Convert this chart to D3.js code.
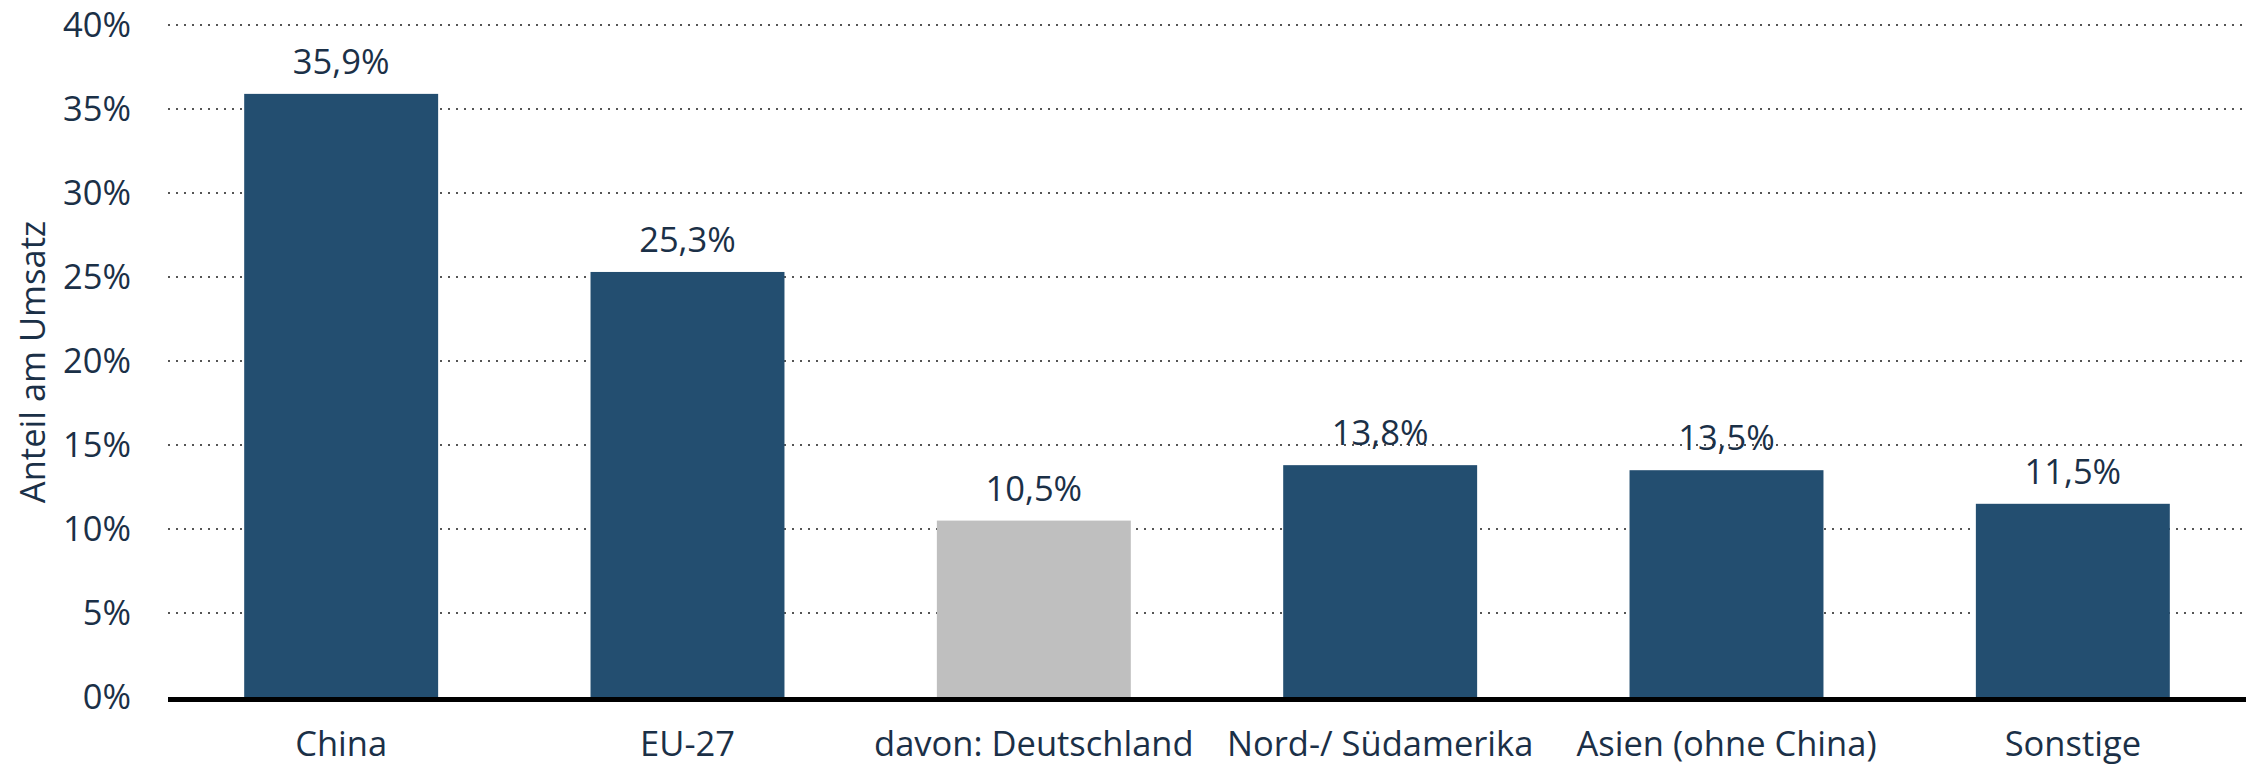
<!DOCTYPE html>
<html>
<head>
<meta charset="utf-8">
<script src="https://cdn.jsdelivr.net/npm/d3@7"></script>
<style>
  html, body { margin: 0; padding: 0; background: #fff; }
  svg text { font-family: "Open Sans", "Noto Sans", sans-serif; }
</style>
</head>
<body>
<svg id="chart" width="2257" height="768"></svg>
<script>
const categories = ["China", "EU-27", "davon: Deutschland", "Nord-/ Südamerika", "Asien (ohne China)", "Sonstige"];
const values = [35.9, 25.3, 10.5, 13.8, 13.5, 11.5];
const valueLabels = ["35,9%", "25,3%", "10,5%", "13,8%", "13,5%", "11,5%"];
const highlight = [false, false, true, false, false, false];
const yTicks = [0, 5, 10, 15, 20, 25, 30, 35, 40];
const yTitle = "Anteil am Umsatz";

const svg = d3.select("#chart");
const textColor = "#1b3047";
const barColor = "#234e70";
const greyColor = "#bfbfbf";
const fs = "34.5px";

const x = d3.scaleBand().domain(categories).range([168, 2246]).paddingInner(0.44).paddingOuter(0.22);
const y = d3.scaleLinear().domain([0, 40]).range([697, 25]);

// gridlines
svg.append("g").selectAll("line").data(yTicks.filter(d => d > 0)).join("line")
  .attr("x1", 168).attr("x2", 2246)
  .attr("y1", d => y(d)).attr("y2", d => y(d))
  .attr("stroke", "#555").attr("stroke-width", 2)
  .attr("stroke-dasharray", "2,6");

// y tick labels
const yAxis = d3.axisLeft(y).tickValues(yTicks).tickFormat(d => d + "%").tickSize(0).tickPadding(0);
const gy = svg.append("g").attr("transform", "translate(131,0)").call(yAxis);
gy.select(".domain").remove();
gy.selectAll("text").attr("fill", textColor).style("font-size", fs)
  .style("font-family", "'Open Sans', sans-serif");

// bars
svg.append("g").selectAll("rect").data(categories).join("rect")
  .attr("x", d => x(d)).attr("width", x.bandwidth())
  .attr("y", (d, i) => y(values[i])).attr("height", (d, i) => y(0) - y(values[i]))
  .attr("fill", (d, i) => highlight[i] ? greyColor : barColor);

// value labels
svg.append("g").selectAll("text").data(categories).join("text")
  .attr("x", d => x(d) + x.bandwidth() / 2)
  .attr("y", (d, i) => y(values[i]) - 20)
  .attr("text-anchor", "middle")
  .attr("fill", textColor).style("font-size", fs)
  .text((d, i) => valueLabels[i]);

// x axis
const xAxis = d3.axisBottom(x).tickSize(0).tickPadding(0);
const gx = svg.append("g").attr("transform", "translate(0," + y(0) + ")").call(xAxis);
gx.select(".domain").remove();
gx.selectAll("text").attr("fill", textColor).style("font-size", fs)
  .style("font-family", "'Open Sans', sans-serif")
  .attr("dy", null).attr("y", 59);

svg.append("line").attr("x1", 168).attr("x2", 2246)
  .attr("y1", y(0) + 2.5).attr("y2", y(0) + 2.5)
  .attr("stroke", "#000").attr("stroke-width", 5);

// y title
svg.append("text")
  .attr("transform", "translate(45,362) rotate(-90)")
  .attr("text-anchor", "middle")
  .attr("fill", textColor).style("font-size", fs)
  .text(yTitle);
</script>
</body>
</html>
